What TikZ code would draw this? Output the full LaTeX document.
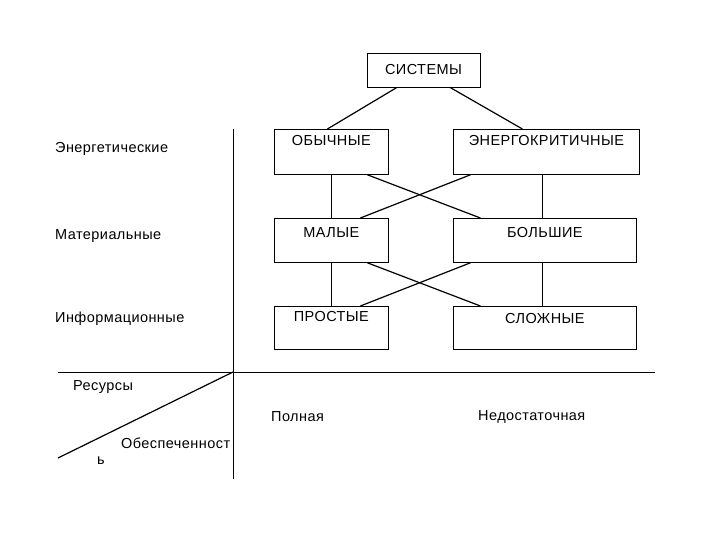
\documentclass[tikz,border=0pt]{standalone}
\usepackage{fontspec}
\setmainfont{Liberation Sans}[LetterSpace=3]
\usepackage{tikz}
\usetikzlibrary{positioning}

\begin{document}
\begin{tikzpicture}[
  x=1pt,y=-1pt,
  font=\fontsize{14.5}{16}\selectfont,
  box/.style n args={3}{draw,line width=0.8pt,inner xsep=0pt,inner ysep=0pt,minimum width=#1,text height=#2,text depth=#3,anchor=north west},
  link/.style={line width=1.2pt},
  axis/.style={line width=0.9pt},
  lbl/.style={anchor=west,inner sep=0pt}
]
\useasboundingbox (0,0) rectangle (720,540);

% top of the tree
\node[draw,line width=0.8pt,minimum width=113pt,minimum height=34pt,inner sep=0pt] (sys) at (423.5,70) {СИСТЕМЫ};

% boxes, one row per kind of resource
\node[box={114pt}{16pt}{29pt}] (obych) at (274,129) {ОБЫЧНЫЕ};
\node[box={186pt}{16pt}{29pt}] (energo) at (453,129) {ЭНЕРГОКРИТИЧНЫЕ};
\node[box={114pt}{19pt}{25pt}] (maly) at (274,218) {МАЛЫЕ};
\node[box={183pt}{19pt}{25pt}] (bolsh) at (453,218) {БОЛЬШИЕ};
\node[box={114pt}{15pt}{28pt}] (prost) at (274,306) {ПРОСТЫЕ};
\node[box={183pt}{17pt}{26pt}] (slozh) at (453,306) {СЛОЖНЫЕ};

\draw[link] ([xshift=-26.5pt]sys.south) -- ([xshift=-4pt]obych.north);
\draw[link] ([xshift=26.5pt]sys.south) -- ([xshift=-24pt]energo.north);

\draw[link] (obych.south) -- (maly.north);
\draw[link] ([xshift=36pt]obych.south) -- ([xshift=-64.5pt]bolsh.north);
\draw[link] ([xshift=-76pt]energo.south) -- ([xshift=29pt]maly.north);
\draw[link] ([xshift=-4pt]energo.south) -- ([xshift=-2.5pt]bolsh.north);

\draw[link] (maly.south) -- (prost.north);
\draw[link] ([xshift=36pt]maly.south) -- ([xshift=-64.5pt]slozh.north);
\draw[link] ([xshift=-74.5pt]bolsh.south) -- ([xshift=29pt]prost.north);
\draw[link] ([xshift=-2.5pt]bolsh.south) -- ([xshift=-2.5pt]slozh.north);

% axes
\coordinate (o) at (233,372);
\coordinate (vtop) at (233,129);
\coordinate (vbot) at (233,479);
\coordinate (hleft) at (58,372);
\coordinate (hright) at (655,372);
\coordinate (dend) at (58,458);
\draw[axis] (vtop) -- (vbot);
\draw[axis] (hleft) -- (hright);
\draw[link] (o) -- (dend);

% row labels
\node[lbl] (energ) at (55,149) {Энергетические};
\node[lbl] (mater) at (55,236) {Материальные};
\node[lbl] (inform) at (55,319) {Информационные};

\node[lbl] (res) at (73,387) {Ресурсы};
\node[lbl] (obesp) at (121,443) {Обеспеченност};
\node[lbl] (obesp2) at (97,461) {ь};

\node[lbl] (poln) at (271,417) {Полная};
\node[lbl] (nedost) at (478,417) {Недостаточная};
\end{tikzpicture}
\end{document}
